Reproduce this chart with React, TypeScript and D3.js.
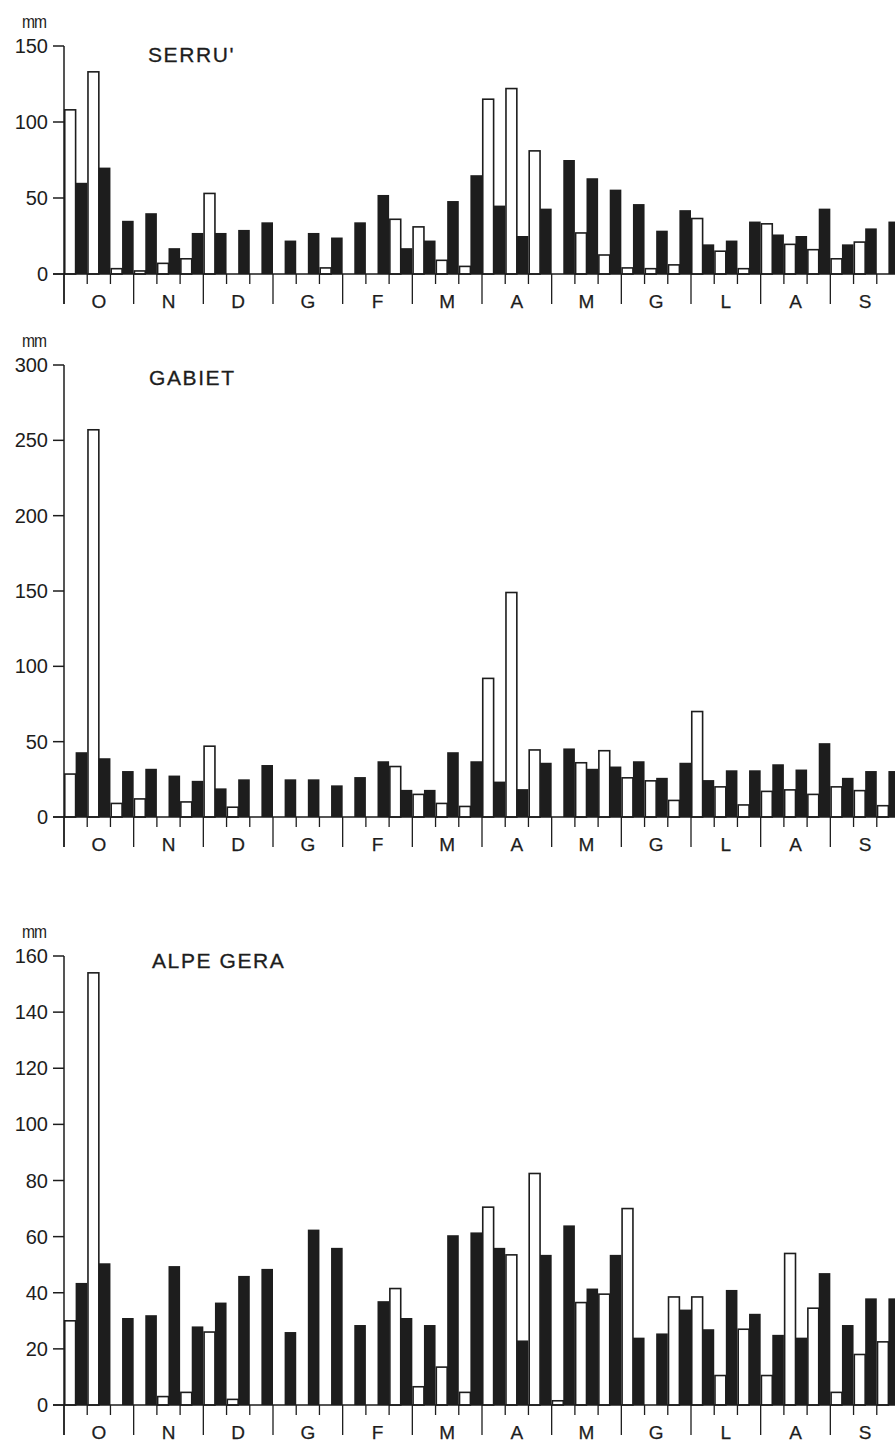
import React from "react";
import * as d3 from "d3";

// ---- Data (mm per decade, Oct -> Sep) ----
const months = ["O", "N", "D", "G", "F", "M", "A", "M", "G", "L", "A", "S"];
const decades = months.flatMap((m, i) => ["1", "2", "3"].map((k) => `${i}-${m}${k}`));

const serruWhite = [108, 133, 3.5, 2, 7, 10, 53, 0, 0, 0, 0, 4, 0, 0, 36, 31, 9, 5, 115, 122, 81, 0, 27, 12.5, 4, 3.5, 6, 36.5, 15, 3.5, 33, 19.5, 16, 10, 21, 0];
const serruBlack = [60, 70, 35, 40, 17, 27, 27, 29, 34, 22, 27, 24, 34, 52, 17, 22, 48, 65, 45, 25, 43, 75, 63, 55.5, 46, 28.5, 42, 19.5, 22, 34.5, 26, 25, 43, 19.5, 30, 34.5];

const gabietWhite = [28.5, 257, 9, 12, 0, 10, 47, 6.5, 0, 0, 0, 0, 0, 0, 33.5, 15, 9, 7, 92, 149, 44.5, 0, 36, 44, 26, 24, 11, 70, 20, 8, 17, 18, 15, 20, 17.5, 7.5];
const gabietBlack = [43, 39, 30.5, 32, 27.5, 24, 19, 25, 34.5, 25, 25, 21, 26.5, 37, 18, 18, 43, 37, 23.5, 18.5, 36, 45.5, 32, 33.5, 37, 26, 36, 24.5, 31, 31, 35, 31.5, 49, 26, 30.5, 30.5];

const alpeWhite = [30, 154, 0, 0, 3, 4.5, 26, 2, 0, 0, 0, 0, 0, 0, 41.5, 6.5, 13.5, 4.5, 70.5, 53.5, 82.5, 1.5, 36.5, 39.5, 70, 0, 38.5, 38.5, 10.5, 27, 10.5, 54, 34.5, 4.5, 18, 22.5];
const alpeBlack = [43.5, 50.5, 31, 32, 49.5, 28, 36.5, 46, 48.5, 26, 62.5, 56, 28.5, 37, 31, 28.5, 60.5, 61.5, 56, 23, 53.5, 64, 41.5, 53.5, 24, 25.5, 34, 27, 41, 32.5, 25, 24, 47, 28.5, 38, 38];

const serruTicks = [0, 50, 100, 150];
const gabietTicks = [0, 50, 100, 150, 200, 250, 300];
const alpeTicks = [0, 20, 40, 60, 80, 100, 120, 140, 160];

const titles = ["SERRU'", "GABIET", "ALPE GERA"];

const FONT = "'Liberation Sans', Arial, Helvetica, sans-serif";
const INK = "#1d1d1d";

const x = d3.scaleBand<string>().domain(decades).range([64, 900]).padding(0);

type PanelProps = {
  title: string;
  white: number[];
  black: number[];
  ticks: number[];
  yTop: number;
  yZero: number;
  titleX: number;
  titleY: number;
};

function Panel({ title, white, black, ticks, yTop, yZero, titleX, titleY }: PanelProps) {
  const max = ticks[ticks.length - 1];
  const y = d3.scaleLinear().domain([0, max]).range([yZero, yTop]);
  const bw = x.bandwidth() / 2;
  const x0 = x.range()[0];
  return (
    <g>
      <text
        x={34}
        y={yTop - 18}
        fontSize={13}
        textAnchor="middle"
        fontFamily={FONT}
        fill={INK}
        transform={`translate(34 ${yTop - 18}) scale(1.2 1.35) translate(-34 ${-(yTop - 18)})`}
        letterSpacing={-0.8}
      >
        mm
      </text>
      <text x={titleX} y={titleY} fontSize={21} letterSpacing={1.6} fontFamily={FONT} fill={INK} stroke={INK} strokeWidth={0.3}>
        {title}
      </text>
      {/* white bars */}
      {decades.map((d, i) =>
        white[i] > 0 ? (
          <rect
            key={"w" + i}
            x={(x(d) as number) + 0.75}
            y={y(white[i])}
            width={bw - 0.75}
            height={yZero - y(white[i])}
            fill="#fff"
            stroke={INK}
            strokeWidth={1.6}
          />
        ) : null
      )}
      {/* black bars */}
      {decades.map((d, i) => (
        <rect
          key={"b" + i}
          x={(x(d) as number) + bw}
          y={y(black[i])}
          width={bw}
          height={yZero - y(black[i])}
          fill={INK}
        />
      ))}
      {/* x axis */}
      <line x1={53} x2={900} y1={yZero} y2={yZero} stroke={INK} strokeWidth={1.5} />
      {decades.map((d, i) => {
        const xx = x(d) as number;
        const long = i % 3 === 0;
        return (
          <line key={"t" + i} x1={xx} x2={xx} y1={yZero} y2={yZero + (long ? 30 : 10)} stroke={INK} strokeWidth={1.3} />
        );
      })}
      {months.map((m, i) => {
        const cx = (x(decades[i * 3 + 1]) as number) + x.bandwidth() / 2;
        return (
          <text key={"m" + i} x={cx} y={yZero + 27} fontSize={19} textAnchor="middle" dominantBaseline="central" fontFamily={FONT} fill={INK} stroke={INK} strokeWidth={0.25}>
            {m}
          </text>
        );
      })}
      {/* y axis */}
      <line x1={x0} x2={x0} y1={yTop} y2={yZero + 30} stroke={INK} strokeWidth={1.5} />
      {ticks.map((t) => (
        <g key={"y" + t}>
          <line x1={53} x2={x0} y1={y(t)} y2={y(t)} stroke={INK} strokeWidth={1.5} />
          <text x={48} y={y(t)} fontSize={20} textAnchor="end" dominantBaseline="central" fontFamily={FONT} fill={INK}>
            {t}
          </text>
        </g>
      ))}
    </g>
  );
}

export default function App() {
  return (
    <svg
      width={895}
      height={1445}
      style={{ position: "absolute", left: 0, top: 0, background: "#fff" }}
    >
      <rect x={0} y={0} width={895} height={1445} fill="#fff" />
      <Panel title={titles[0]} white={serruWhite} black={serruBlack} ticks={serruTicks} yTop={46} yZero={274} titleX={148} titleY={62} />
      <Panel title={titles[1]} white={gabietWhite} black={gabietBlack} ticks={gabietTicks} yTop={365} yZero={817} titleX={149} titleY={385} />
      <Panel title={titles[2]} white={alpeWhite} black={alpeBlack} ticks={alpeTicks} yTop={956} yZero={1405} titleX={152} titleY={968} />
    </svg>
  );
}
